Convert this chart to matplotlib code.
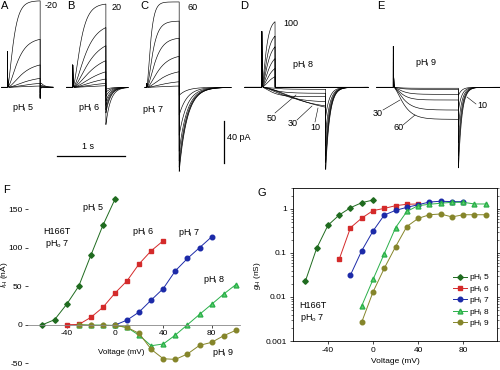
import numpy as np
import matplotlib
matplotlib.use('Agg')
import matplotlib.pyplot as plt
from matplotlib.lines import Line2D
from matplotlib.ticker import FuncFormatter, LogLocator, NullFormatter

plt.rcParams['font.family'] = ['Liberation Sans', 'DejaVu Sans']
plt.rcParams['mathtext.fontset'] = 'custom'
plt.rcParams['mathtext.rm'] = 'Liberation Sans'
plt.rcParams['mathtext.it'] = 'Liberation Sans:italic'
plt.rcParams['axes.unicode_minus'] = False

# ---- top row current traces (pA), one entry per sweep ----
# A: pHi 5
amp_a = [81, 45, 21, 8.4, 3.7, 1.2]
tau_a = [0.07, 0.12, 0.17, 0.22, 0.25, 0.25]
tail_a = [5.5, 2.8, 1.2, 0.5, 0.2, 0]
# B: pHi 6
amp_b = [78, 56, 39, 25, 14.6, 7.8, 3.7, 1.5]
tau_b = [0.09, 0.15, 0.19, 0.22, 0.25, 0.27, 0.28, 0.28]
tail_b = [-35, -24, -21, -17, -13, -8.4, -4.7, -1.9]
# C: pHi 7
amp_c = [80, 62, 46, 29, 14.6, 5.2, 1.2]
tau_c = [0.045, 0.07, 0.1, 0.14, 0.18, 0.22, 0.25]
tail_c = [-79, -75, -69, -60, -45, -26, -7.5]
# D: pHi 8 (short outward sweeps + long inward sweeps)
amp_d_out = [61.5, 48, 38, 27, 17.8, 10]
tau_d_out = [0.05, 0.06, 0.07, 0.08, 0.09, 0.1]
amp_d_in = [-1.9, -5.6, -8.8, -13.5, -17.5, -18.7]
tau_d_in = [0.15, 0.15, 0.12, 0.25, 0.4, 0.5]
tail_d = [-27, -43, -55, -65, -71, -77.5]
# E: pHi 9
amp_e = [-0.9, -1.9, -6.6, -11.9, -21.3, -30]
tau_e = [0.08, 0.08, 0.1, 0.1, 0.12, 0.12]
tail_e = [-7.5, -21, -37, -52.5, -65, -76]

# ---- F: current-voltage ----
v5_f = [-60, -50, -40, -30, -20, -10, 0]
i5_f = [0, 6.5, 26.5, 50, 90, 129, 163]
v6_f = [-40, -30, -20, -10, 0, 10, 20, 30, 40]
i6_f = [0, 0.3, 9.5, 22.5, 41, 57, 79, 96, 109]
v7_f = [0, 10, 20, 30, 40, 50, 60, 70, 80]
i7_f = [-0.5, 6, 16.5, 32, 47, 70, 86, 100, 114]
v8_f = [-30, -20, -10, 0, 10, 20, 30, 40, 50, 60, 70, 80, 90, 100]
i8_f = [0, -0.5, -0.5, -1, -3.5, -13.8, -27.3, -25, -13.4, 0, 13.4, 26.5, 39.8, 52]
v9_f = [-30, -20, -10, 0, 10, 20, 30, 40, 50, 60, 70, 80, 90, 100]
i9_f = [0, -0.9, -0.9, -1, -3.5, -11.3, -32, -44.2, -45, -38, -26.8, -22.9, -14.3, -7.3]

# ---- G: conductance-voltage ----
v5_g = [-60, -50, -40, -30, -20, -10, 0]
g5_g = [0.023, 0.128, 0.426, 0.73, 1.07, 1.39, 1.6]
v6_g = [-30, -20, -10, 0, 10, 20, 30, 40]
g6_g = [0.072, 0.376, 0.62, 0.92, 1.03, 1.19, 1.28, 1.3]
v7_g = [-20, -10, 0, 10, 20, 30, 40, 50, 60, 70, 80]
g7_g = [0.0316, 0.113, 0.316, 0.73, 0.93, 1.09, 1.25, 1.44, 1.5, 1.47, 1.47]
v8_g = [-10, 0, 10, 20, 30, 40, 50, 60, 70, 80, 90, 100]
g8_g = [0.0063, 0.025, 0.097, 0.376, 0.88, 1.19, 1.28, 1.35, 1.42, 1.42, 1.3, 1.3]
v9_g = [-10, 0, 10, 20, 30, 40, 50, 60, 70, 80, 90, 100]
g9_g = [0.0027, 0.013, 0.045, 0.139, 0.4, 0.61, 0.74, 0.77, 0.66, 0.74, 0.74, 0.74]

W, H = 500, 370
PX_S = 67.7     # pixels per second in top row
PX_PA = 1.067   # pixels per pA in top row
BASE = 87.3     # baseline pixel row

fig = plt.figure(figsize=(5, 3.7), dpi=100)


def label(x, y, s, size=6.5, ha='left', va='center', **kw):
    fig.text(x / W, 1 - y / H, s, fontsize=size, ha=ha, va=va, **kw)


def leader(x0, y0, x1, y1):
    fig.add_artist(Line2D([x0 / W, x1 / W], [1 - y0 / H, 1 - y1 / H],
                          lw=0.4, color='k'))


def draw_sweeps(ax, x0, t_on, t_pulse, t_end, amps, taus, tails, tau_tail,
                cap_on=0, cap_off=0):
    t = np.linspace(0, t_end, 3000)
    t0 = x0 / PX_S
    for a, tau, tl in zip(amps, taus, tails):
        i = np.zeros_like(t)
        on = (t >= t_on) & (t < t_on + t_pulse)
        s = t[on] - t_on
        norm = (1 - np.exp(-t_pulse / tau)) ** 2
        i[on] = a * (1 - np.exp(-s / tau)) ** 2 / norm + cap_on * np.exp(-s / 0.004)
        off = t >= t_on + t_pulse
        s = t[off] - t_on - t_pulse
        i[off] = tl * np.exp(-s / tau_tail) + cap_off * np.exp(-s / 0.004)
        ax.plot(t0 + t, i, color='k', lw=0.45)


# top row: one axes, time in s, current in pA
ax_t = fig.add_axes([0, 1 - 180 / H, 1, 180 / H])
ax_t.set_xlim(0, W / PX_S)
ax_t.set_ylim(-(180 - BASE) / PX_PA, BASE / PX_PA)
ax_t.axis('off')

draw_sweeps(ax_t, 1.7, 0.083, 0.485, 0.758, amp_a, tau_a, tail_a, 0.05, 35, -11)
draw_sweeps(ax_t, 66.7, 0.089, 0.49, 0.905, amp_b, tau_b, tail_b, 0.07, 21)
draw_sweeps(ax_t, 145, 0.025, 0.48, 1.27, amp_c, tau_c, tail_c, 0.12, 4)
draw_sweeps(ax_t, 245, 0.247, 0.197, 1.817, amp_d_out, tau_d_out,
            [0] * len(amp_d_out), 0.05, 55)
draw_sweeps(ax_t, 245, 0.247, 0.945, 1.817, amp_d_in, tau_d_in, tail_d, 0.06, 55)
draw_sweeps(ax_t, 376.7, 0.245, 0.963, 1.82, amp_e, tau_e, tail_e, 0.05, 40)

# scale bars: 1 s and 40 pA
ax_t.plot([57.3 / PX_S, 57.3 / PX_S + 1], [-64.1, -64.1], color='k', lw=0.9)
ax_t.plot([224.3 / PX_S] * 2, [-31.3, -71.3], color='k', lw=0.9)
label(82, 147, '1 s')
label(227, 138, '40 pA')

for x, s in [(1, 'A'), (67, 'B'), (140, 'C'), (240, 'D'), (377, 'E')]:
    label(x, 6, s, size=8)
label(45, 6, '-20')
label(112, 7, '20')
label(188, 7, '60')
label(283, 23, '100')
label(12, 108, r'pH$_\mathrm{i}$ 5')
label(78, 108, r'pH$_\mathrm{i}$ 6')
label(142, 110, r'pH$_\mathrm{i}$ 7')
label(292, 65, r'pH$_\mathrm{i}$ 8')
label(415, 63, r'pH$_\mathrm{i}$ 9')
label(267, 118, '50')
label(288, 124, '30')
label(310, 127, '10')
label(373, 113, '30')
label(393, 128, '60')
label(477, 106, '10')
leader(275, 113, 296, 95)
leader(297, 120, 312, 106)
leader(315, 122, 318, 108)
leader(383, 110, 400, 100)
leader(403, 125, 415, 115)
leader(476, 104, 467, 97)

# colours / markers per pHi
styles = {
    5: dict(color='#1f6b1f', marker='D', ms=2.8),
    6: dict(color='#d42a2a', marker='s', ms=3.0),
    7: dict(color='#1c2aa8', marker='o', ms=3.3),
    8: dict(color='#2bb04a', marker='^', ms=3.5, mfc='#5fd070'),
    9: dict(color='#85852a', marker='o', ms=3.3),
}

# ---- F ----
ax_f = fig.add_axes([28 / W, 1 - 368 / H, 212 / W, 173 / H])
ax_f.set_xlim(-72, 103.5)
ax_f.set_ylim(-56.2, 168.4)
for ph, v, i in [(5, v5_f, i5_f), (6, v6_f, i6_f), (7, v7_f, i7_f),
                 (8, v8_f, i8_f), (9, v9_f, i9_f)]:
    ax_f.plot(v, i, lw=0.7, mec=styles[ph]['color'], **styles[ph])
ax_f.spines['bottom'].set_position(('data', 0))
ax_f.spines['bottom'].set_linewidth(0.6)
ax_f.spines['bottom'].set_color('#888888')
for side in ['top', 'right', 'left']:
    ax_f.spines[side].set_visible(False)
ax_f.set_xticks([-40, 0, 40, 80])
ax_f.set_yticks([-50, 0, 50, 100, 150])
ax_f.tick_params(labelsize=6, length=2, width=0.5, pad=2)
ax_f.patch.set_alpha(0)
label(3, 190, 'F', size=8)
label(121, 352, 'Voltage (mV)', size=5.8, ha='center')
label(5, 275, r'$I_\mathrm{H}$ (nA)', size=6, ha='center', rotation=90)
label(82, 208, r'pH$_\mathrm{i}$ 5')
label(43, 232, 'H166T', size=6.5)
label(45, 244, r'pH$_\mathrm{o}$ 7', size=6.5)
label(132, 232, r'pH$_\mathrm{i}$ 6')
label(178, 233, r'pH$_\mathrm{i}$ 7')
label(203, 280, r'pH$_\mathrm{i}$ 8')
label(212, 353, r'pH$_\mathrm{i}$ 9')

# ---- G ----
ax_g = fig.add_axes([293 / W, 1 - 341 / H, 204 / W, 153 / H])
for ph, v, g in [(5, v5_g, g5_g), (6, v6_g, g6_g), (7, v7_g, g7_g),
                 (8, v8_g, g8_g), (9, v9_g, g9_g)]:
    ax_g.plot(v, g, lw=0.7, mec=styles[ph]['color'],
              label=r'pH$_\mathrm{i}$ %d' % ph, **styles[ph])
ax_g.set_yscale('log')
ax_g.set_xlim(-71, 110)
ax_g.set_ylim(0.001, 3.0)
ax_g.set_xticks([-40, 0, 40, 80])
ax_g.yaxis.set_major_formatter(FuncFormatter(lambda v, _: '%g' % v))
ax_g.yaxis.set_minor_locator(LogLocator(base=10, subs=np.arange(2, 10)))
ax_g.yaxis.set_minor_formatter(NullFormatter())
ax_g.tick_params(labelsize=6, length=2.5, width=0.5, pad=2, right=True)
ax_g.tick_params(which='minor', length=1.5, width=0.4, right=True)
for sp in ax_g.spines.values():
    sp.set_linewidth(0.6)
ax_g.set_xlabel('Voltage (mV)', fontsize=6, labelpad=3)
ax_g.set_ylabel(r'$g_\mathrm{H}$ (nS)', fontsize=6)
ax_g.yaxis.set_label_coords(-0.145, 0.425)
ax_g.legend(loc='upper left', bbox_to_anchor=(0.765, 0.475), frameon=False,
            fontsize=6, handlelength=1.6, handletextpad=0.3, labelspacing=0.05,
            numpoints=1, borderpad=0)
label(258, 193, 'G', size=8)
label(299, 306, 'H166T', size=6.5)
label(300, 318, r'pH$_\mathrm{o}$ 7', size=6.5)

fig.savefig('out.png', dpi=100)
